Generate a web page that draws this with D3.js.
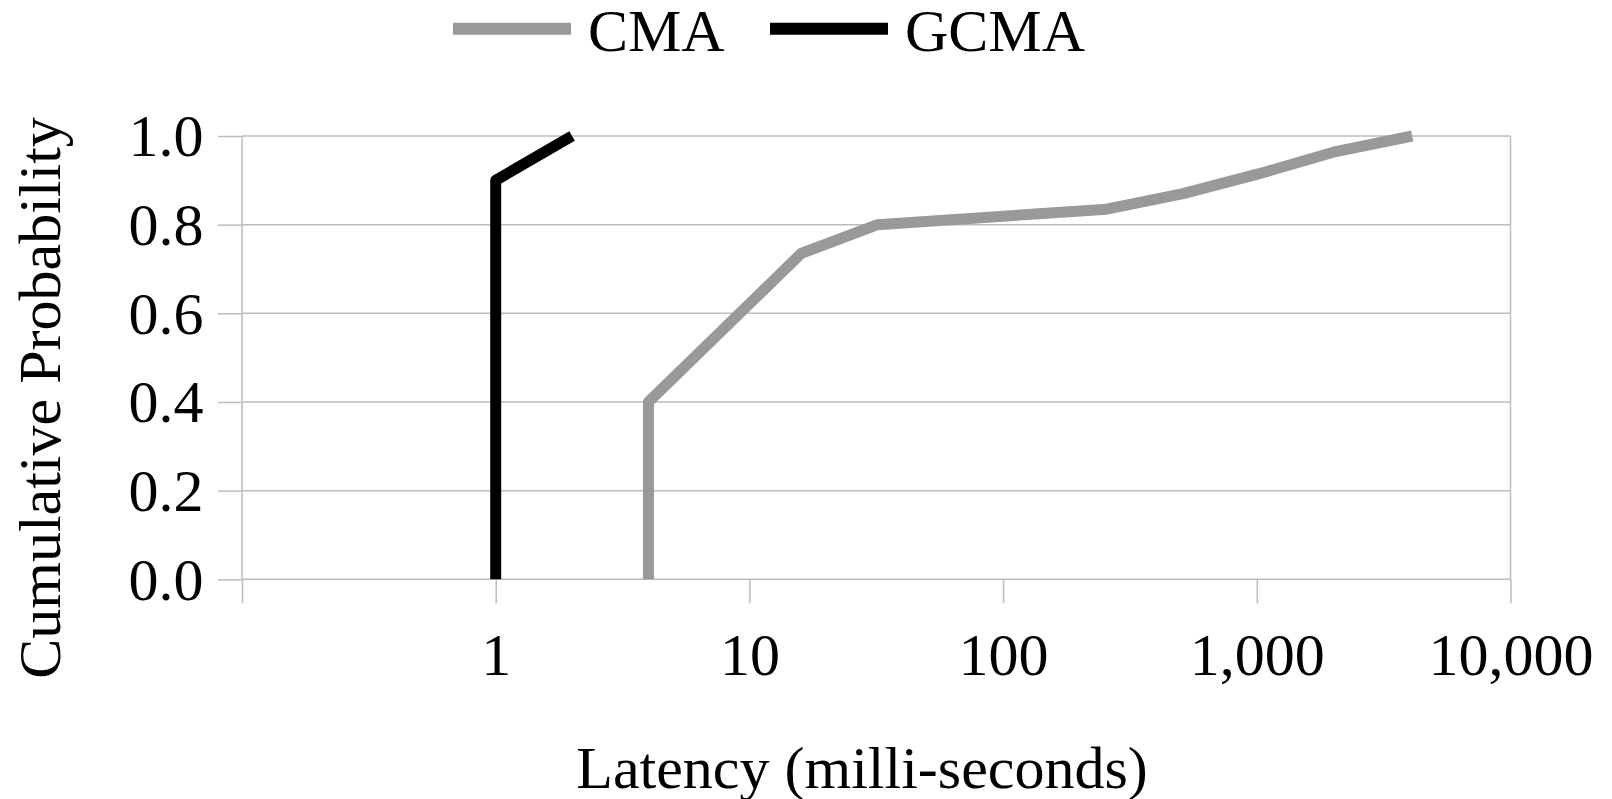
<!DOCTYPE html>
<html>
<head>
<meta charset="utf-8">
<script src="https://cdn.jsdelivr.net/npm/d3@7"></script>
<style>
  body { margin: 0; background: #fff; }
  text { font-family: "Liberation Serif", "DejaVu Serif", serif; fill: #000; }
</style>
</head>
<body>
<div id="chart"></div>
<script>
// latency (ms) vs cumulative probability
var cmaLatency = [4, 4, 16, 32, 256, 512, 1024, 2048, 4096];
var cmaProb    = [0, 0.40, 0.735, 0.80, 0.835, 0.87, 0.915, 0.965, 1.0];
var gcmaLatency = [1, 1, 2];
var gcmaProb    = [0, 0.90, 1.0];

var seriesNames = ["CMA", "GCMA"];
var seriesColors = ["#999999", "#000000"];

var xTicks = [0.1, 1, 10, 100, 1000, 10000];
var yTicks = [0, 0.2, 0.4, 0.6, 0.8, 1.0];

var W = 1612, H = 799;
var margin = { left: 242, right: 1510.5, top: 136, bottom: 579.3 };

var svg = d3.select("#chart").append("svg")
    .attr("width", W)
    .attr("height", H);

var x = d3.scaleLog()
    .domain([0.1, 10000])
    .range([margin.left, margin.right]);

var y = d3.scaleLinear()
    .domain([0, 1])
    .range([margin.bottom, margin.top]);

var gridColor = "#bdbdbd";

// horizontal grid
svg.append("g")
    .selectAll("line")
    .data(yTicks)
    .enter().append("line")
    .attr("x1", margin.left).attr("x2", margin.right)
    .attr("y1", function(d){ return y(d); })
    .attr("y2", function(d){ return y(d); })
    .attr("stroke", gridColor)
    .attr("stroke-width", 1.5);

// left / right borders
svg.append("g")
    .selectAll("line")
    .data([0.1, 10000])
    .enter().append("line")
    .attr("x1", function(d){ return x(d); })
    .attr("x2", function(d){ return x(d); })
    .attr("y1", margin.top).attr("y2", margin.bottom)
    .attr("stroke", gridColor)
    .attr("stroke-width", 1.5);

var fmt = d3.format(",");
var xAxis = d3.axisBottom(x)
    .tickValues(xTicks)
    .tickSize(24)
    .tickFormat(function(d){ return d < 1 ? "" : fmt(d); });

var gx = svg.append("g")
    .attr("transform", "translate(0," + margin.bottom + ")")
    .call(xAxis);
gx.select(".domain").remove();
gx.selectAll(".tick line").attr("stroke", gridColor).attr("stroke-width", 1.5);
gx.selectAll(".tick text")
    .attr("y", 96).attr("dy", 0)
    .attr("font-size", "60px")
    .attr("font-family", "Liberation Serif");

var yAxis = d3.axisLeft(y)
    .tickValues(yTicks)
    .tickSize(24)
    .tickFormat(d3.format(".1f"));

var gy = svg.append("g")
    .attr("transform", "translate(" + margin.left + ",0)")
    .call(yAxis);
gy.select(".domain").remove();
gy.selectAll(".tick line").attr("stroke", gridColor).attr("stroke-width", 1.5);
gy.selectAll(".tick text")
    .attr("x", -38.5).attr("dy", "0.33em")
    .attr("font-size", "60px")
    .attr("font-family", "Liberation Serif");

// series lines
var line = d3.line()
    .x(function(d){ return x(d[0]); })
    .y(function(d){ return y(d[1]); });

var series = [
    d3.zip(cmaLatency, cmaProb),
    d3.zip(gcmaLatency, gcmaProb)
];

svg.append("g")
    .selectAll("path")
    .data(series)
    .enter().append("path")
    .attr("d", line)
    .attr("fill", "none")
    .attr("stroke", function(d, i){ return seriesColors[i]; })
    .attr("stroke-width", 11)
    .attr("stroke-linejoin", "round")
    .attr("stroke-linecap", "butt");

// legend
var legendX = [453, 770];
var legend = svg.append("g")
    .selectAll("g")
    .data(seriesNames)
    .enter().append("g")
    .attr("transform", function(d, i){ return "translate(" + legendX[i] + ",0)"; });

legend.append("line")
    .attr("x1", 0).attr("x2", 118)
    .attr("y1", 28.7).attr("y2", 28.7)
    .attr("stroke", function(d, i){ return seriesColors[i]; })
    .attr("stroke-width", 12);

legend.append("text")
    .attr("x", 135)
    .attr("y", 50.5)
    .attr("font-size", "60px")
    .text(function(d){ return d; });

// axis titles
svg.append("text")
    .attr("x", 862)
    .attr("y", 788)
    .attr("text-anchor", "middle")
    .attr("font-size", "60px")
    .text("Latency (milli-seconds)");

svg.append("text")
    .attr("transform", "translate(60,398) rotate(-90)")
    .attr("text-anchor", "middle")
    .attr("font-size", "60px")
    .text("Cumulative Probability");
</script>
</body>
</html>
